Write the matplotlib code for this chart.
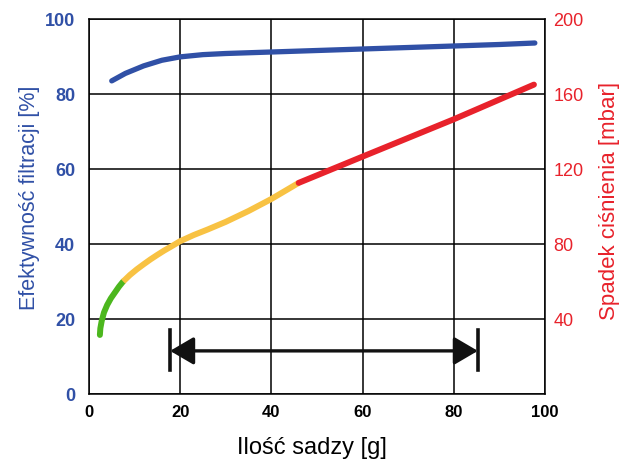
import numpy as np
import matplotlib
matplotlib.use('Agg')
import matplotlib.pyplot as plt

plt.rcParams['font.family'] = ['Liberation Sans', 'DejaVu Sans']

# Efficiency curve (left axis, %)
eff_x = [5, 8, 12, 16, 20, 25, 30, 40, 50, 60, 70, 80, 90, 97.8]
eff_y = [83.5, 85.5, 87.5, 89.0, 89.9, 90.5, 90.8, 91.2, 91.6, 92.0, 92.4, 92.8, 93.2, 93.6]

# Pressure drop curve (right axis, mbar), split into three coloured parts
green_x = [2.4, 2.5, 2.8, 3.3, 4.0, 4.8, 5.8, 6.6, 7.5]
green_y = [31.5, 35.0, 39.0, 43.5, 47.5, 51.0, 54.5, 57.3, 60.0]
yellow_x = [7.5, 9.0, 10.5, 12.0, 13.5, 15.0, 16.5, 18.0, 20.0, 23.0, 26.0, 30.0, 35.0, 40.0, 46.0]
yellow_y = [60.0, 63.5, 66.5, 69.2, 71.8, 74.2, 76.5, 78.6, 81.5, 84.8, 87.7, 91.8, 97.6, 104.0, 112.6]
red_x = [46.0, 60.0, 80.0, 97.6]
red_y = [112.6, 126.6, 146.5, 165.0]

# Range arrow
arrow_start = 17.8
arrow_end = 85.3
arrow_level = 11.5

xticks = [0, 20, 40, 60, 80, 100]
left_ticks = [0, 20, 40, 60, 80, 100]
right_ticks = [40, 80, 120, 160, 200]

blue = '#3050a6'
red = '#e8222b'
yellow = '#f8c243'
green = '#4cb71e'

fig = plt.figure(figsize=(6.22, 4.59), dpi=100)
ax = fig.add_axes([0.143, 0.1416, 0.733, 0.817])

ax.set_xlim(0, 100)
ax.set_ylim(0, 100)
ax.set_xticks(xticks)
ax.set_yticks(left_ticks)
ax.grid(True, color='black', linewidth=1.1)
ax.tick_params(length=0)
ax.tick_params(axis='x', pad=8, labelsize=12)
ax.tick_params(axis='y', pad=10, labelsize=13, labelcolor=blue)
for lab in ax.get_xticklabels() + ax.get_yticklabels():
    lab.set_fontweight('bold')
for s in ax.spines.values():
    s.set_linewidth(1.1)

ax.plot(eff_x, eff_y, color=blue, linewidth=3.8, solid_capstyle='round')

ax.set_xlabel('Ilość sadzy [g]', fontsize=17)
ax.xaxis.set_label_coords(0.489, -0.1147)
ax.set_ylabel('Efektywność filtracji [%]', fontsize=15.5, color=blue)
ax.yaxis.set_label_coords(-0.108, 0.5227)

# arrow with end bars
ax.annotate('', xy=(arrow_end, arrow_level), xytext=(arrow_start, arrow_level),
            arrowprops=dict(arrowstyle='<|-|>,head_length=1.45,head_width=0.85',
                            color='#111111', linewidth=2.4, shrinkA=0, shrinkB=0))
ax.plot([arrow_start, arrow_start], [6.4, 17], color='#111111', linewidth=2.6)
ax.plot([arrow_end, arrow_end], [6.4, 17], color='#111111', linewidth=2.6)

ax2 = ax.twinx()
ax2.set_ylim(0, 200)
ax2.set_yticks(right_ticks)
ax2.tick_params(length=0, labelsize=13, pad=6, labelcolor=red)
for s in ax2.spines.values():
    s.set_visible(False)

ax2.plot(green_x, green_y, color=green, linewidth=4.3, solid_capstyle='round')
ax2.plot(yellow_x, yellow_y, color=yellow, linewidth=4.3, solid_capstyle='butt')
ax2.plot(red_x, red_y, color=red, linewidth=4.3, solid_capstyle='round')
ax2.set_ylabel('Spadek ciśnienia [mbar]', fontsize=16, color=red)
ax2.yaxis.set_label_coords(1.118, 0.5147)

fig.savefig('out.png', dpi=100)
